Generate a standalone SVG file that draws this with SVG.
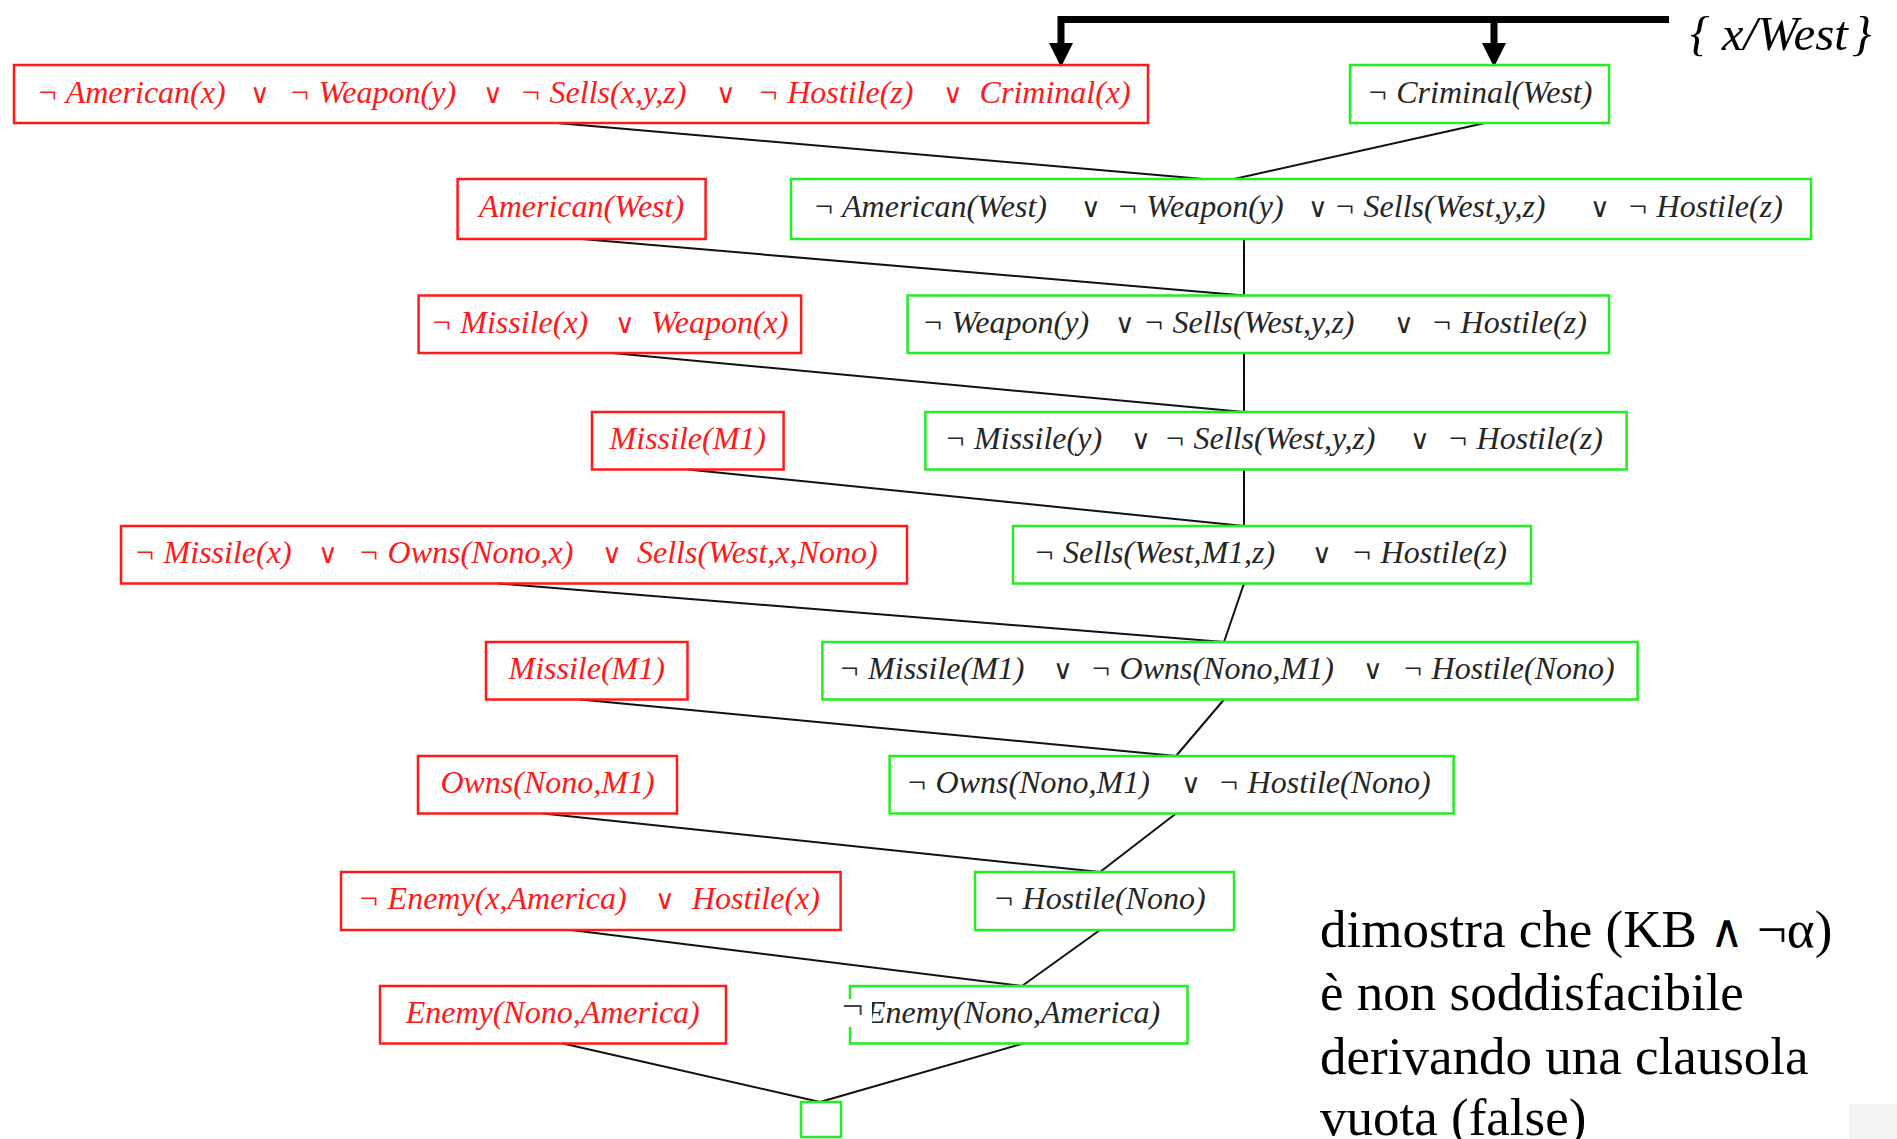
<svg xmlns="http://www.w3.org/2000/svg" width="1897" height="1139" viewBox="0 0 1897 1139">
<style>
.rb{fill:none;stroke:#ff1a1a;stroke-width:2.5}
.gb{fill:none;stroke:#22ee22;stroke-width:2.5}
.t{font-family:"Liberation Serif","Times New Roman",serif;font-style:italic;font-size:32px}
.rt{fill:#ff1a1a}
.gt{fill:#262626}
.op{font-family:"DejaVu Sans",sans-serif;font-style:normal;font-size:27px}
.mid{text-anchor:middle}
.con{stroke:#111;stroke-width:2;fill:none}
.arr{stroke:#000;stroke-width:7;fill:none;stroke-linejoin:miter}
.note{font-family:"Liberation Serif","Times New Roman",serif;font-size:53px;fill:#000}
.sm{font-family:"DejaVu Sans",sans-serif;font-size:46px}
</style>
<defs>
<marker id="ah" viewBox="0 -12 24 24" refX="0" refY="0" markerWidth="24" markerHeight="24" markerUnits="userSpaceOnUse" orient="auto">
<path d="M0,-12 L24,0 L0,12 z" fill="#000"/>
</marker>
</defs>
<rect width="1897" height="1139" fill="#fff"/>
<rect x="1849" y="1104" width="48" height="35" fill="#f3f3f3"/>

<g id="substitution">
<path class="arr" d="M1669,19.5 H1061 V43" marker-end="url(#ah)"/>
<path class="arr" d="M1494,19.5 V43" marker-end="url(#ah)"/>
<text x="1690" y="50" class="t" style="font-size:49px;fill:#000">{ x/West<tspan dx="4">}</tspan></text>
</g>

<g id="connectors">
<polyline class="con" points="557,123 1203,179 1234,179 1485,123"/>
<line class="con" x1="581.6" y1="239" x2="1244" y2="295.5"/>
<line class="con" x1="1244" y1="239" x2="1244" y2="295.5"/>
<line class="con" x1="612" y1="353" x2="1244" y2="412"/>
<line class="con" x1="1244" y1="353" x2="1244" y2="412"/>
<line class="con" x1="688" y1="469.5" x2="1244" y2="526"/>
<line class="con" x1="1244" y1="469.5" x2="1244" y2="526"/>
<line class="con" x1="498" y1="583.5" x2="1224" y2="642"/>
<line class="con" x1="1244" y1="583.5" x2="1224" y2="642"/>
<line class="con" x1="580" y1="699.5" x2="1176" y2="756"/>
<line class="con" x1="1224" y1="699.5" x2="1176" y2="756"/>
<line class="con" x1="543" y1="813.5" x2="1100" y2="872"/>
<line class="con" x1="1176" y1="813.5" x2="1100" y2="872"/>
<line class="con" x1="571" y1="930" x2="1022" y2="986"/>
<line class="con" x1="1100" y1="930" x2="1022" y2="986"/>
<line class="con" x1="563" y1="1043.5" x2="820" y2="1102"/>
<line class="con" x1="1023" y1="1043.5" x2="820" y2="1102"/>
</g>

<g id="n1r">
<rect class="rb" x="14" y="65" width="1134" height="58"/>
<text class="t rt" y="102.5"><tspan x="36.7">¬ American(x)</tspan><tspan class="op" x="250">∨</tspan><tspan x="289">¬ Weapon(y)</tspan><tspan class="op" x="483">∨</tspan><tspan x="520">¬ Sells(x,y,z)</tspan><tspan class="op" x="716">∨</tspan><tspan x="757.6">¬ Hostile(z)</tspan><tspan class="op" x="943">∨</tspan><tspan x="979.6">Criminal(x)</tspan></text>
</g>
<g id="n1g">
<rect class="gb" x="1350" y="65" width="259" height="58"/>
<text class="t gt mid" x="1479.5" y="102.5">¬ Criminal(West)</text>
</g>

<g id="n2r">
<rect class="rb" x="457.6" y="179" width="248" height="60"/>
<text class="t rt mid" x="581.6" y="216.5">American(West)</text>
</g>
<g id="n2g">
<rect class="gb" x="791" y="179" width="1020" height="60"/>
<text class="t gt" y="216.5"><tspan x="813">¬ American(West)</tspan><tspan class="op" x="1081">∨</tspan><tspan x="1116.7">¬ Weapon(y)</tspan><tspan class="op" x="1308">∨</tspan><tspan x="1334">¬ Sells(West,y,z)</tspan><tspan class="op" x="1590">∨</tspan><tspan x="1627">¬ Hostile(z)</tspan></text>
</g>

<g id="n3r">
<rect class="rb" x="418.6" y="295.5" width="382.5" height="57.5"/>
<text class="t rt" y="332.5"><tspan x="430.7">¬ Missile(x)</tspan><tspan class="op" x="615">∨</tspan><tspan x="651">Weapon(x)</tspan></text>
</g>
<g id="n3g">
<rect class="gb" x="907.6" y="295.5" width="701.4" height="57.5"/>
<text class="t gt" y="332.5"><tspan x="922">¬ Weapon(y)</tspan><tspan class="op" x="1115">∨</tspan><tspan x="1143">¬ Sells(West,y,z)</tspan><tspan class="op" x="1394">∨</tspan><tspan x="1431">¬ Hostile(z)</tspan></text>
</g>

<g id="n4r">
<rect class="rb" x="592" y="412" width="191.6" height="57.5"/>
<text class="t rt mid" x="687.8" y="449">Missile(M1)</text>
</g>
<g id="n4g">
<rect class="gb" x="925.4" y="412" width="701.2" height="57.5"/>
<text class="t gt" y="449"><tspan x="944.5">¬ Missile(y)</tspan><tspan class="op" x="1131">∨</tspan><tspan x="1164">¬ Sells(West,y,z)</tspan><tspan class="op" x="1410">∨</tspan><tspan x="1447">¬ Hostile(z)</tspan></text>
</g>

<g id="n5r">
<rect class="rb" x="121" y="526" width="786" height="57.5"/>
<text class="t rt" y="563"><tspan x="134">¬ Missile(x)</tspan><tspan class="op" x="318">∨</tspan><tspan x="358">¬ Owns(Nono,x)</tspan><tspan class="op" x="602">∨</tspan><tspan x="637">Sells(West,x,Nono)</tspan></text>
</g>
<g id="n5g">
<rect class="gb" x="1013" y="526" width="518" height="57.5"/>
<text class="t gt" y="563"><tspan x="1033.5">¬ Sells(West,M1,z)</tspan><tspan class="op" x="1312">∨</tspan><tspan x="1351">¬ Hostile(z)</tspan></text>
</g>

<g id="n6r">
<rect class="rb" x="486" y="642" width="201.5" height="57.5"/>
<text class="t rt mid" x="586.7" y="679">Missile(M1)</text>
</g>
<g id="n6g">
<rect class="gb" x="822.4" y="642" width="815.2" height="57.5"/>
<text class="t gt" y="679"><tspan x="838.5">¬ Missile(M1)</tspan><tspan class="op" x="1053">∨</tspan><tspan x="1090">¬ Owns(Nono,M1)</tspan><tspan class="op" x="1363">∨</tspan><tspan x="1402">¬ Hostile(Nono)</tspan></text>
</g>

<g id="n7r">
<rect class="rb" x="418" y="756" width="259" height="57.5"/>
<text class="t rt mid" x="547.5" y="793">Owns(Nono,M1)</text>
</g>
<g id="n7g">
<rect class="gb" x="889.6" y="756" width="564" height="57.5"/>
<text class="t gt" y="793"><tspan x="906">¬ Owns(Nono,M1)</tspan><tspan class="op" x="1181">∨</tspan><tspan x="1218">¬ Hostile(Nono)</tspan></text>
</g>

<g id="n8r">
<rect class="rb" x="341" y="872" width="499.6" height="58"/>
<text class="t rt" y="909"><tspan x="358">¬ Enemy(x,America)</tspan><tspan class="op" x="655">∨</tspan><tspan x="692">Hostile(x)</tspan></text>
</g>
<g id="n8g">
<rect class="gb" x="975" y="872" width="259" height="58"/>
<text class="t gt" x="993" y="909">¬ Hostile(Nono)</text>
</g>

<g id="n9r">
<rect class="rb" x="380" y="986" width="346" height="57.5"/>
<text class="t rt mid" x="552.7" y="1023">Enemy(Nono,America)</text>
</g>
<g id="n9g">
<rect class="gb" x="850" y="986" width="337.5" height="57.5"/>
<text class="t gt" x="866" y="1023">Enemy(Nono,America)</text>
<rect x="845" y="999" width="27" height="28" fill="#fff"/>
<text class="t" x="842" y="1019" style="font-style:normal;font-size:38px;fill:#444">¬</text>
</g>

<g id="n10">
<rect class="gb" x="801" y="1102" width="40" height="35"/>
</g>

<g id="note">
<text class="note" x="1320" y="947">dimostra che (KB <tspan class="sm">∧</tspan> ¬α)</text>
<text class="note" x="1320" y="1010">è non soddisfacibile</text>
<text class="note" x="1320" y="1074">derivando una clausola</text>
<text class="note" x="1320" y="1135">vuota (false)</text>
</g>
</svg>
